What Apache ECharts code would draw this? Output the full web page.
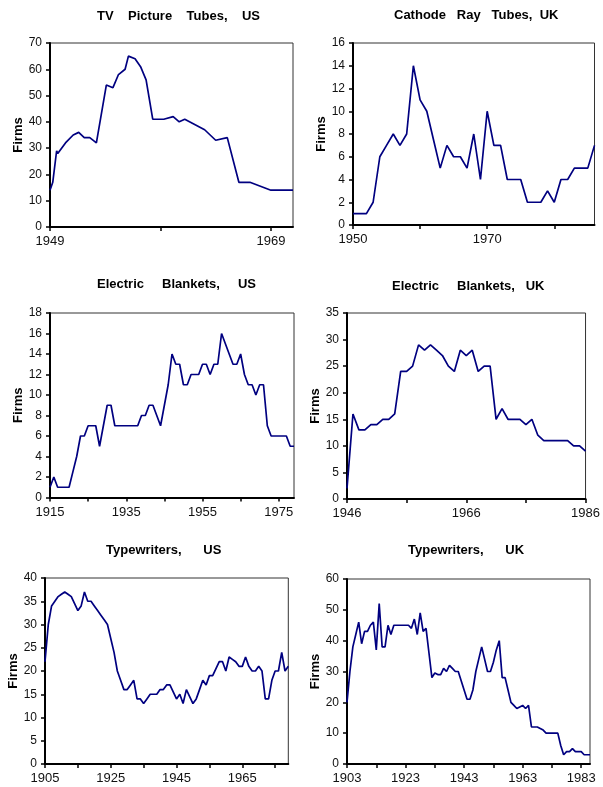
<!DOCTYPE html>
<html>
<head>
<meta charset="utf-8">
<script src="https://cdn.jsdelivr.net/npm/echarts@6/dist/echarts.min.js"></script>
<style>html,body{margin:0;padding:0;background:#fff}#c{width:603px;height:787px}</style>
</head>
<body>
<div id="c"></div>
<script>
// ---------- data ----------
// TV Picture Tubes, US (x positions)
const tvUSYears = [1949, 1949.25, 1949.6, 1949.7, 1950.4, 1951.1, 1951.6, 1952.1, 1952.6, 1953.2, 1954.1, 1954.7, 1955.2, 1955.8, 1956.1, 1956.7, 1957.2, 1957.7, 1958.3, 1959.3, 1960.15, 1960.7, 1961.2, 1963.0, 1964.0, 1965.05, 1966.1, 1967.1, 1969, 1971];
const tvUSFirms = [14, 17, 29, 28, 32, 35, 36, 34, 34, 32, 54, 53, 58, 60, 65, 64, 61, 56, 41, 41, 42, 40, 41, 37, 33, 34, 17, 17, 14, 14];

// Cathode Ray Tubes, UK 1950-1986
const crtUKStart = 1950;
const crtUKFirms = [1, 1, 1, 2, 6, 7, 8, 7, 8, 14,
                    11, 10, 7.5, 5, 7, 6, 6, 5, 8, 4,
                    10, 7, 7, 4, 4, 4, 2, 2, 2, 3,
                    2, 4, 4, 5, 5, 5, 7];

// Electric Blankets, US 1915-1979
const ebUSStart = 1915;
const ebUSFirms = [1, 2, 1, 1, 1, 1, 2.5, 4, 6, 6,
                   7, 7, 7, 5, 7, 9, 9, 7, 7, 7,
                   7, 7, 7, 7, 8, 8, 9, 9, 8, 7,
                   9, 11, 14, 13, 13, 11, 11, 12, 12, 12,
                   13, 13, 12, 13, 13, 16, 15, 14, 13, 13,
                   14, 12, 11, 11, 10, 11, 11, 7, 6, 6,
                   6, 6, 6, 5, 5];

// Electric Blankets, UK 1946-1986
const ebUKStart = 1946;
const ebUKFirms = [2, 16, 13, 13, 14, 14, 15, 15, 16, 24,
                   24, 25, 29, 28, 29, 28, 27, 25, 24, 28,
                   27, 28, 24, 25, 25, 15, 17, 15, 15, 15,
                   14, 15, 12, 11, 11, 11, 11, 11, 10, 10,
                   9];

// Typewriters, US 1905-1979
const twUSStart = 1905;
const twUSFirms = [22, 30, 34, 35, 36, 36.5, 37, 36.5, 36, 34.5,
                   33, 34, 37, 35, 35, 34, 33, 32, 31, 30,
                   27, 24, 20, 18, 16, 16, 17, 18, 14, 14,
                   13, 14, 15, 15, 15, 16, 16, 17, 17, 15.5,
                   14, 15, 13, 16, 14.5, 13, 14, 16, 18, 17,
                   19, 19, 20.5, 22, 22, 20, 23, 22.5, 22, 21,
                   21, 23, 21, 20, 20, 21, 20, 14, 14, 18,
                   20, 20, 24, 20, 21];

// Typewriters, UK 1903-1986
const twUKStart = 1903;
const twUKFirms = [20, 30, 38, 42, 46, 39, 43, 43, 45, 46,
                   37, 52, 38, 38, 45, 42, 45, 45, 45, 45,
                   45, 45, 44, 47, 42, 49, 43, 44, 36, 28,
                   29.5, 29, 29, 31, 30, 32, 31, 30, 30, 27,
                   24, 21, 21, 24, 30, 34, 38, 34, 30, 30,
                   33, 37, 40, 28, 28, 24, 20, 19, 18, 18.5,
                   19, 18, 19, 12, 12, 12, 11.5, 11, 10, 10,
                   10, 10, 10, 6, 3, 4, 4, 5, 4, 4,
                   4, 3, 3, 3];

// axis ticks / labels
const tvUSTicks = [1949, 1959, 1969], tvUSLabels = [1949, 1969];
const crtUKTicks = [1950, 1960, 1970, 1980], crtUKLabels = [1950, 1970];
const ebUSTicks = [1915, 1925, 1935, 1945, 1955, 1965, 1975], ebUSLabels = [1915, 1935, 1955, 1975];
const ebUKTicks = [1946, 1956, 1966, 1976, 1986], ebUKLabels = [1946, 1966, 1986];
const twUSTicks = [1905, 1915, 1925, 1935, 1945, 1955, 1965, 1975], twUSLabels = [1905, 1925, 1945, 1965];
const twUKTicks = [1903, 1913, 1923, 1933, 1943, 1953, 1963, 1973, 1983], twUKLabels = [1903, 1923, 1943, 1963, 1983];

// ---------- helpers ----------
function annual(start, vals) { return vals.map((v, i) => [start + i, v]); }
function pairs(xs, ys) { return xs.map((x, i) => [x, ys[i]]); }

const FONT = 'Liberation Sans, Arial, sans-serif';

const panels = [
  { title: 'TV    Picture    Tubes,    US', tl: 97, tt: 10,
    grid: { left: 50, top: 43, width: 243, height: 184 },
    xmin: 1949, xmax: 1971, ticks: tvUSTicks, labels: tvUSLabels,
    ymax: 70, yint: 10, nameGap: 23, data: pairs(tvUSYears, tvUSFirms) },
  { title: 'Cathode   Ray   Tubes,  UK', tl: 394, tt: 9,
    grid: { left: 353, top: 43, width: 241.5, height: 182 },
    xmin: 1950, xmax: 1986, ticks: crtUKTicks, labels: crtUKLabels,
    ymax: 16, yint: 2, nameGap: 24, data: annual(crtUKStart, crtUKFirms) },
  { title: 'Electric     Blankets,     US', tl: 97, tt: 278,
    grid: { left: 50, top: 313, width: 244, height: 184.5 },
    xmin: 1915, xmax: 1979, ticks: ebUSTicks, labels: ebUSLabels,
    ymax: 18, yint: 2, nameGap: 23, data: annual(ebUSStart, ebUSFirms) },
  { title: 'Electric     Blankets,   UK', tl: 392, tt: 280,
    grid: { left: 347, top: 313, width: 243, height: 186 },
    xmin: 1946, xmax: 1986, ticks: ebUKTicks, labels: ebUKLabels,
    ymax: 35, yint: 5, nameGap: 23, data: annual(ebUKStart, ebUKFirms) },
  { title: 'Typewriters,      US', tl: 106, tt: 544,
    grid: { left: 45, top: 578, width: 243.3, height: 186 },
    xmin: 1905, xmax: 1979, ticks: twUSTicks, labels: twUSLabels,
    ymax: 40, yint: 5, nameGap: 24, data: annual(twUSStart, twUSFirms) },
  { title: 'Typewriters,      UK', tl: 408, tt: 544,
    grid: { left: 347, top: 579, width: 243, height: 185 },
    xmin: 1903, xmax: 1986, ticks: twUKTicks, labels: twUKLabels,
    ymax: 60, yint: 10, nameGap: 23, data: annual(twUKStart, twUKFirms) }
];

const option = { animation: false, title: [], grid: [], xAxis: [], yAxis: [], series: [] };

panels.forEach((p, i) => {
  option.title.push({
    text: p.title, left: p.tl, top: p.tt, padding: 0,
    textStyle: { fontSize: 13, fontWeight: 'bold', color: '#000', fontFamily: FONT }
  });
  option.grid.push(Object.assign({ show: true, borderColor: '#333', borderWidth: 1, backgroundColor: 'transparent' }, p.grid));
  option.xAxis.push({
    gridIndex: i, type: 'value', min: p.xmin, max: p.xmax,
    axisLine: { onZero: false, lineStyle: { color: '#000', width: 2 } },
    axisTick: { show: true, length: 4, lineStyle: { color: '#000', width: 1.5 }, customValues: p.ticks },
    axisLabel: { customValues: p.labels, fontSize: 13, color: '#111', margin: 8, fontFamily: FONT,
                 formatter: v => String(v) },
    splitLine: { show: false }
  });
  option.yAxis.push({
    gridIndex: i, type: 'value', min: 0, max: p.ymax, interval: p.yint,
    name: 'Firms', nameLocation: 'middle', nameGap: p.nameGap,
    nameTextStyle: { fontSize: 13, fontWeight: 'bold', color: '#000', fontFamily: FONT },
    axisLine: { show: true, onZero: false, lineStyle: { color: '#000', width: 2 } },
    axisTick: { show: true, length: 4, lineStyle: { color: '#000', width: 1.5 } },
    axisLabel: { fontSize: 12, color: '#111', margin: 8, fontFamily: FONT },
    splitLine: { show: false }
  });
  option.series.push({
    type: 'line', xAxisIndex: i, yAxisIndex: i, data: p.data,
    showSymbol: false, symbol: 'none', smooth: false,
    lineStyle: { color: '#000080', width: 1.7 }
  });
});

const chart = echarts.init(document.getElementById('c'), null, { renderer: 'canvas' });
chart.setOption(option);
</script>
</body>
</html>
